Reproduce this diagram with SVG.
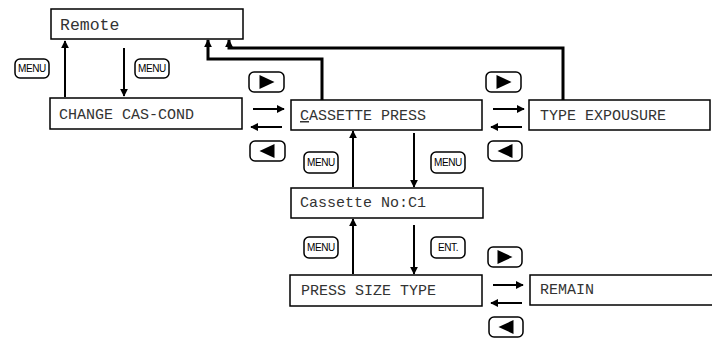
<svg xmlns="http://www.w3.org/2000/svg" width="712" height="338" viewBox="0 0 712 338">
<defs>
<style>
.box{fill:#fff;stroke:#000;stroke-width:1.5}
.lbl{font-family:"Liberation Mono","Courier New",monospace;font-size:15px;fill:#333}
.btn{fill:#fff;stroke:#000;stroke-width:1.5}
.bt{font-family:"Liberation Sans",Arial,sans-serif;font-size:10px;fill:#000;text-anchor:middle;letter-spacing:-0.4px}
.ar{fill:none;stroke:#000;stroke-width:2;marker-end:url(#ah)}
.ar3{fill:none;stroke:#000;stroke-width:3;marker-end:url(#ah)}
</style>
<marker id="ah" viewBox="0 0 10 10" refX="9" refY="5" markerUnits="userSpaceOnUse" markerWidth="8" markerHeight="8" orient="auto">
<path d="M0,0 L10,5 L0,10 z" fill="#000"/>
</marker>
<path id="play" d="M-7.5,-7 L7.5,0 L-7.5,7 z" fill="#000"/>
<path id="back" d="M7.5,-7 L-7.5,0 L7.5,7 z" fill="#000"/>
</defs>

<g id="connectors">
<path class="ar" d="M65,97 V41"/>
<path class="ar" d="M124,48 V96"/>
<path class="ar" d="M253,109 H284"/>
<path class="ar" d="M282,127 H251"/>
<path class="ar" d="M493,109 H524"/>
<path class="ar" d="M522,127 H491"/>
<path class="ar" d="M353,187 V131"/>
<path class="ar" d="M414,133 V187"/>
<path class="ar" d="M353,274 V219"/>
<path class="ar" d="M414,225 V274"/>
<path class="ar" d="M493,285 H523"/>
<path class="ar" d="M522,303 H491"/>
<path class="ar3" d="M322,100 V59 H208 V40"/>
<path class="ar3" d="M563,100 V48 H229 V40"/>
</g>

<g id="remote"><rect class="box" x="51" y="9" width="192" height="30"/><text class="lbl" x="60" y="30" style="font-size:16.5px">Remote</text></g>
<g id="change-cas-cond"><rect class="box" x="50" y="98" width="192" height="31"/><text class="lbl" x="59" y="119">CHANGE CAS-COND</text></g>
<g id="cassette-press"><rect class="box" x="291" y="100" width="191" height="30"/><text class="lbl" x="300" y="120"><tspan text-decoration="underline">C</tspan>ASSETTE PRESS</text></g>
<g id="type-expousure"><rect class="box" x="529" y="100" width="181" height="30"/><text class="lbl" x="540" y="120">TYPE EXPOUSURE</text></g>
<g id="cassette-no"><rect class="box" x="291" y="188" width="192" height="30"/><text class="lbl" x="300" y="207">Cassette No:C1</text></g>
<g id="press-size-type"><rect class="box" x="290" y="275" width="192" height="31"/><text class="lbl" x="301" y="295">PRESS SIZE TYPE</text></g>
<g id="remain"><rect class="box" x="530" y="275" width="190" height="30"/><text class="lbl" x="540" y="294">REMAIN</text></g>

<g id="btn-menu-1"><rect class="btn" x="15" y="59" width="34" height="19" rx="5"/><text class="bt" x="32" y="72">MENU</text></g>
<g id="btn-menu-2"><rect class="btn" x="135" y="59" width="34" height="19" rx="5"/><text class="bt" x="152" y="72">MENU</text></g>
<g id="btn-play-1"><rect class="btn" x="249" y="72" width="35" height="20" rx="5"/><use href="#play" x="267" y="82"/></g>
<g id="btn-back-1"><rect class="btn" x="250" y="141" width="35" height="20" rx="5"/><use href="#back" x="267" y="151"/></g>
<g id="btn-play-2"><rect class="btn" x="486" y="72" width="35" height="20" rx="5"/><use href="#play" x="504" y="82"/></g>
<g id="btn-back-2"><rect class="btn" x="488" y="141" width="34" height="20" rx="5"/><use href="#back" x="505" y="151"/></g>
<g id="btn-menu-3"><rect class="btn" x="304" y="152" width="34" height="21" rx="5"/><text class="bt" x="321" y="166">MENU</text></g>
<g id="btn-menu-4"><rect class="btn" x="431" y="152" width="34" height="21" rx="5"/><text class="bt" x="448" y="166">MENU</text></g>
<g id="btn-menu-5"><rect class="btn" x="304" y="237" width="34" height="21" rx="5"/><text class="bt" x="321" y="251">MENU</text></g>
<g id="btn-ent"><rect class="btn" x="431" y="237" width="34" height="21" rx="5"/><text class="bt" x="448" y="251">ENT.</text></g>
<g id="btn-play-3"><rect class="btn" x="488" y="247" width="34" height="20" rx="5"/><use href="#play" x="505" y="257"/></g>
<g id="btn-back-3"><rect class="btn" x="489" y="317" width="34" height="20" rx="5"/><use href="#back" x="506" y="327"/></g>
</svg>
